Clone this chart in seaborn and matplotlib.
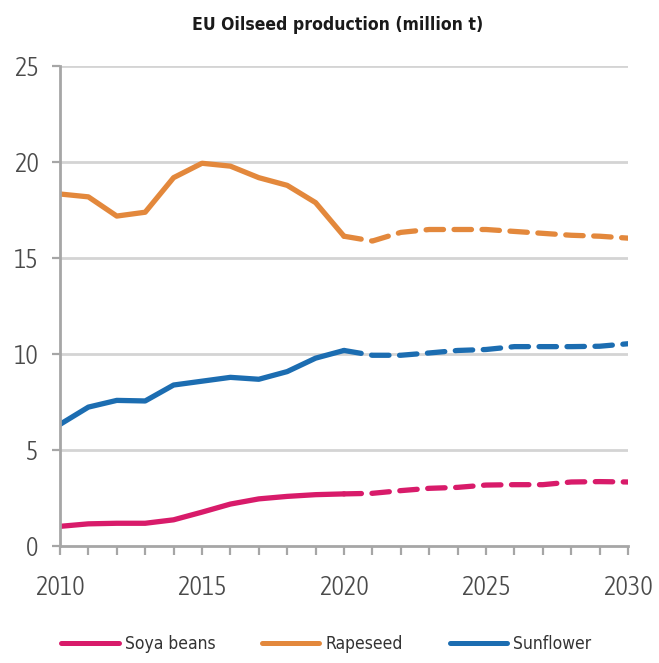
import numpy as np
import pandas as pd
import matplotlib
matplotlib.use("Agg")
import matplotlib.pyplot as plt
from matplotlib import font_manager
from matplotlib.lines import Line2D
import seaborn as sns

years = list(range(2010, 2031))

soya_beans = [1.04, 1.17, 1.20, 1.20, 1.38, 1.78, 2.20, 2.47, 2.60, 2.69, 2.73,
              2.76, 2.90, 3.02, 3.07, 3.19, 3.21, 3.21, 3.35, 3.37, 3.35]
rapeseed = [18.35, 18.20, 17.20, 17.40, 19.20, 19.95, 19.80, 19.20, 18.80, 17.90, 16.15,
            15.90, 16.35, 16.50, 16.50, 16.50, 16.40, 16.30, 16.20, 16.15, 16.05]
sunflower = [6.35, 7.25, 7.60, 7.57, 8.40, 8.60, 8.80, 8.70, 9.10, 9.80, 10.20,
             9.95, 9.95, 10.07, 10.20, 10.25, 10.40, 10.40, 10.40, 10.42, 10.55]

crops = ["Soya beans", "Rapeseed", "Sunflower"]
colors = {"Soya beans": "#d81b6a", "Rapeseed": "#e3883c", "Sunflower": "#1c6db1"}
last_actual = 2020

rows = []
for crop, vals in zip(crops, [soya_beans, rapeseed, sunflower]):
    for y, v in zip(years, vals):
        if y <= last_actual:
            rows.append((y, v, crop, "actual"))
        if y >= last_actual:
            rows.append((y, v, crop, "outlook"))
df = pd.DataFrame(rows, columns=["year", "value", "crop", "period"])

sns.set_theme(style="white")
plt.rcParams["font.family"] = ["Liberation Sans", "DejaVu Sans"]


def _weight(entry):
    w = entry.weight
    if isinstance(w, str):
        w = font_manager.weight_dict.get(w, 400)
    return int(w)


def pick_font(target_weight, fallbacks):
    """Prefer a narrow/condensed face close to target_weight; else a fallback family."""
    entries = font_manager.fontManager.ttflist
    narrow = [f for f in entries
              if any(k in (f.name + " " + f.fname).lower() for k in ("cond", "narrow"))
              and "italic" not in f.fname.lower() and f.style == "normal"]
    if narrow:
        best = min(narrow, key=lambda f: (abs(_weight(f) - target_weight), f.fname))
        return font_manager.FontProperties(fname=best.fname)
    names = {f.name for f in entries}
    for fam, wt in fallbacks:
        if fam in names:
            return font_manager.FontProperties(family=fam, weight=wt)
    return font_manager.FontProperties(family="DejaVu Sans")


light_font = pick_font(300, [("Lato", "light"), ("Open Sans", "light"),
                             ("Liberation Sans", "normal")])
regular_font = pick_font(400, [("Liberation Sans", "normal")])
bold_font = pick_font(700, [("Liberation Sans", "bold")])

fig = plt.figure(figsize=(6.59, 6.63), dpi=100)
ax = fig.add_axes([0.091, 0.176, 0.862, 0.724])

lw = 3.8
sns.lineplot(data=df, x="year", y="value", hue="crop", style="period",
             palette=colors, hue_order=crops,
             dashes={"actual": "", "outlook": (3.3, 2.0)},
             linewidth=lw, legend=False, ax=ax, estimator=None, sort=True)
for line in ax.get_lines():
    line.set_solid_capstyle("round")
    line.set_dash_capstyle("round")
    line.set_solid_joinstyle("round")

ax.set_xlim(2010, 2030)
ax.set_ylim(0, 25)
ax.set_xticks(range(2010, 2031, 5))
ax.set_xticks(range(2010, 2031), minor=True)
ax.set_yticks(range(0, 26, 5))
ax.set_xlabel("")
ax.set_ylabel("")

for y in range(5, 26, 5):
    ax.axhline(y, color="#d4d4d4", lw=2.0, zorder=0)

for side in ["top", "right"]:
    ax.spines[side].set_visible(False)
for side in ["left", "bottom"]:
    ax.spines[side].set_color("#a6a6a6")
    ax.spines[side].set_linewidth(2.0)

ax.tick_params(axis="both", which="both", direction="out", color="#a6a6a6",
               width=1.6, labelcolor="#4a4a4a")
ax.tick_params(axis="x", which="both", bottom=True, length=6.5, pad=14)
ax.tick_params(axis="y", left=True, length=5.5, pad=10)

tick_fp = light_font.copy()
tick_fp.set_size(19)
for lab in ax.get_xticklabels() + ax.get_yticklabels():
    lab.set_fontproperties(tick_fp)

title_fp = bold_font.copy()
title_fp.set_size(12.6)
fig.text(0.513, 0.962, "EU Oilseed production (million t)", ha="center", va="center",
         fontproperties=title_fp, color="#1a1a1a")

legend_fp = regular_font.copy()
legend_fp.set_size(12.5)
handles = [Line2D([0], [0], color=colors[c], lw=3.6, solid_capstyle="round") for c in crops]
fig.legend(handles, crops, loc="center", bbox_to_anchor=(0.495, 0.029),
           ncol=3, frameon=False, prop=legend_fp, handlelength=3.3,
           handletextpad=0.35, columnspacing=2.7, labelcolor="#333333",
           borderaxespad=0, borderpad=0)

fig.savefig("out.png", dpi=100, facecolor="white")
